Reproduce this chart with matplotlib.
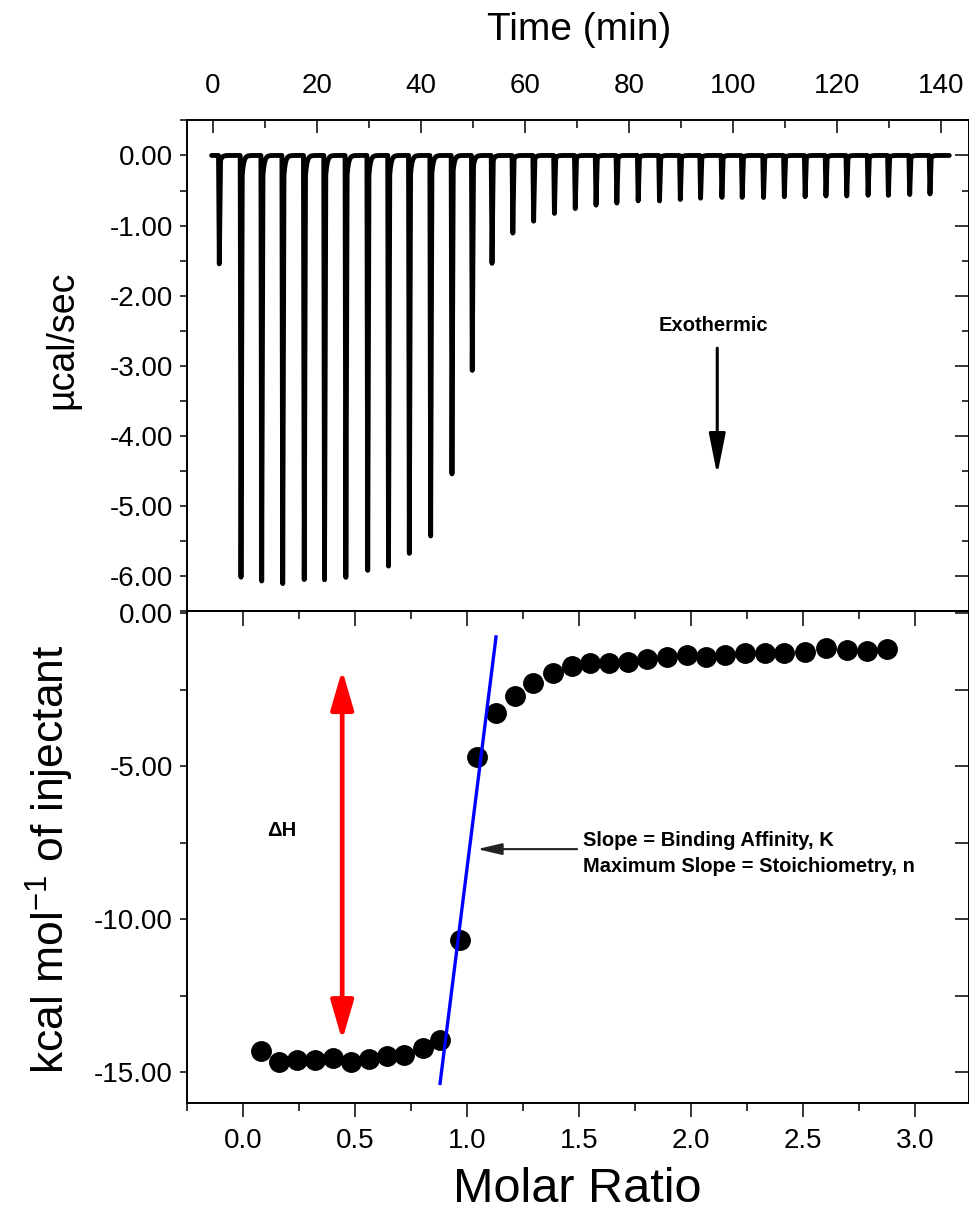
import numpy as np
import matplotlib
matplotlib.use('Agg')
import matplotlib.pyplot as plt
from matplotlib.ticker import MultipleLocator, FormatStrFormatter

plt.rcParams['font.family'] = ['Liberation Sans', 'DejaVu Sans']
plt.rcParams['mathtext.fontset'] = 'custom'
plt.rcParams['mathtext.rm'] = 'Liberation Sans'
plt.rcParams['mathtext.it'] = 'Liberation Sans:italic'
plt.rcParams['mathtext.bf'] = 'Liberation Sans:bold'

# ---------------- data ----------------
# Thermogram: injection peak times (min) and peak heights (ucal/sec)
peak_times = [1.27, 5.44, 9.42, 13.46, 17.6, 21.5, 25.6, 29.8, 33.8, 37.8, 41.9,
              46.0, 49.9, 53.7, 57.7, 61.7, 65.7, 69.7, 73.7, 77.7, 81.8, 85.9,
              89.9, 93.8, 97.9, 101.8, 105.9, 109.9, 113.9, 117.9, 121.9, 126.0,
              129.9, 134.0, 137.9]
peak_depths = [-1.55, -6.04, -6.08, -6.12, -6.06, -6.06, -6.04, -5.94, -5.87, -5.68,
               -5.45, -4.55, -3.07, -1.54, -1.11, -0.94, -0.83, -0.76, -0.71, -0.68,
               -0.65, -0.65, -0.63, -0.61, -0.60, -0.60, -0.60, -0.59, -0.59, -0.58,
               -0.58, -0.57, -0.57, -0.56, -0.55]
run_start, run_end = -0.2, 141.6

# Integrated heats
molar_ratio = [0.080, 0.158, 0.240, 0.321, 0.400, 0.481, 0.560, 0.641, 0.719, 0.802,
               0.879, 0.966, 1.043, 1.129, 1.214, 1.296, 1.383, 1.467, 1.549, 1.635,
               1.720, 1.805, 1.894, 1.981, 2.067, 2.152, 2.241, 2.330, 2.417, 2.509,
               2.603, 2.695, 2.784, 2.876]
enthalpy = [-14.30, -14.66, -14.59, -14.61, -14.52, -14.66, -14.55, -14.48, -14.42, -14.19,
            -13.93, -10.69, -4.70, -3.28, -2.71, -2.28, -1.97, -1.73, -1.64, -1.62,
            -1.59, -1.51, -1.43, -1.37, -1.45, -1.37, -1.30, -1.30, -1.32, -1.26,
            -1.15, -1.21, -1.23, -1.19]

# Slope line
slope_x = [0.879, 1.129]
slope_y = [-15.36, -0.78]

# ---------------- figure ----------------
W, H = 970, 1216
fig = plt.figure(figsize=(W / 100, H / 100), dpi=100)
ax1 = fig.add_axes([187 / W, 1 - 611 / H, 782 / W, (611 - 120) / H])
ax2 = fig.add_axes([187 / W, 1 - 1103 / H, 782 / W, (1103 - 611) / H])

TICK_FS = 20
SPINE_LW = 1.4

# thermogram trace (peak shape: sharp drop, fast return)
t = np.linspace(run_start, run_end, 100000)
y = np.zeros_like(t)
for ti, d in zip(peak_times, peak_depths):
    dt = t - ti
    down = (dt >= -0.15) & (dt < 0)
    y[down] += d * (dt[down] + 0.15) / 0.15
    up1 = (dt >= 0) & (dt < 0.22)
    y[up1] += d * (1 - 0.95 * dt[up1] / 0.22)
    up2 = dt >= 0.22
    y[up2] += d * 0.05 * np.exp(-(dt[up2] - 0.22) / 0.3)
ax1.plot(t, y, color='black', lw=3.5, solid_joinstyle='round', solid_capstyle='round')

ax1.set_xlim(-4.94, 145.4)
ax1.set_ylim(-6.5, 0.506)
ax1.xaxis.tick_top()
ax1.xaxis.set_major_locator(MultipleLocator(20))
ax1.xaxis.set_minor_locator(MultipleLocator(10))
ax1.yaxis.set_major_locator(MultipleLocator(1))
ax1.yaxis.set_minor_locator(MultipleLocator(0.5))
ax1.yaxis.set_major_formatter(FormatStrFormatter('%.2f'))
ax1.tick_params(axis='x', which='both', direction='in', top=True, bottom=False,
                labeltop=True, labelbottom=False, width=1.1)
ax1.tick_params(axis='x', which='major', length=9.5, pad=15, labelsize=TICK_FS)
ax1.tick_params(axis='x', which='minor', length=5.5)
ax1.tick_params(axis='y', which='both', direction='out', left=True, right=False,
                length=5, width=1.1, labelsize=TICK_FS, pad=5)
s1 = ax1.secondary_yaxis('right')
s1.yaxis.set_major_locator(MultipleLocator(1))
s1.yaxis.set_minor_locator(MultipleLocator(0.5))
s1.tick_params(axis='y', which='both', direction='in', labelright=False, width=1.1)
s1.tick_params(axis='y', which='major', length=10)
s1.tick_params(axis='y', which='minor', length=5)

# integrated heats
ax2.plot(molar_ratio, enthalpy, 'o', color='black', ms=14, zorder=3)
ax2.plot(slope_x, slope_y, color='#0000FF', lw=2.4, zorder=4)

ax2.set_xlim(-0.251, 3.241)
ax2.set_ylim(-16.0, 0.065)
ax2.xaxis.set_major_locator(MultipleLocator(0.5))
ax2.xaxis.set_minor_locator(MultipleLocator(0.25))
ax2.xaxis.set_major_formatter(FormatStrFormatter('%.1f'))
ax2.yaxis.set_major_locator(MultipleLocator(5))
ax2.yaxis.set_minor_locator(MultipleLocator(2.5))
ax2.yaxis.set_major_formatter(FormatStrFormatter('%.2f'))
ax2.tick_params(axis='x', which='both', direction='out', top=False, bottom=True, width=1.1)
ax2.tick_params(axis='x', which='major', length=10, pad=8, labelsize=TICK_FS)
ax2.tick_params(axis='x', which='minor', length=6)
ax2.tick_params(axis='y', which='both', direction='out', left=True, right=False,
                length=5, width=1.1, labelsize=TICK_FS, pad=5)
s2 = ax2.secondary_xaxis('top')
s2.xaxis.set_major_locator(MultipleLocator(0.5))
s2.xaxis.set_minor_locator(MultipleLocator(0.25))
s2.tick_params(axis='x', which='both', direction='in', labeltop=False, width=1.1)
s2.tick_params(axis='x', which='major', length=11)
s2.tick_params(axis='x', which='minor', length=6)
s3 = ax2.secondary_yaxis('right')
s3.yaxis.set_major_locator(MultipleLocator(5))
s3.yaxis.set_minor_locator(MultipleLocator(2.5))
s3.tick_params(axis='y', which='both', direction='in', labelright=False, width=1.1)
s3.tick_params(axis='y', which='major', length=10)
s3.tick_params(axis='y', which='minor', length=10)

for a in (ax1, ax2, s1, s2, s3):
    for sp in a.spines.values():
        sp.set_linewidth(SPINE_LW)

# annotations
ax1.text(96.2, -2.42, 'Exothermic', fontsize=14.5, fontweight='bold', ha='center', va='center')
ax1.annotate('', xy=(97.0, -4.56), xytext=(97.0, -2.75),
             arrowprops=dict(arrowstyle='-|>,head_length=2.5,head_width=0.5',
                             mutation_scale=10, color='black', lw=2.2,
                             shrinkA=0, shrinkB=0))

ax2.annotate('', xy=(0.442, -1.86), xytext=(0.442, -13.95),
             arrowprops=dict(arrowstyle='<|-|>,head_length=2.4,head_width=0.7',
                             mutation_scale=10, color='#FF0000', lw=3.4,
                             shrinkA=0, shrinkB=0))
ax2.text(0.174, -7.09, '\u0394H', fontsize=14.5, fontweight='bold', ha='center', va='center')
ax2.annotate('', xy=(1.045, -7.71), xytext=(1.491, -7.71),
             arrowprops=dict(arrowstyle='-|>,head_length=1.5,head_width=0.35',
                             mutation_scale=10, color='#222222', lw=1.5,
                             shrinkA=0, shrinkB=0))
ax2.text(1.518, -7.42, 'Slope = Binding Affinity, K', fontsize=14.5, fontweight='bold',
         ha='left', va='center')
ax2.text(1.518, -8.27, 'Maximum Slope = Stoichiometry, n', fontsize=14.5, fontweight='bold',
         ha='left', va='center')

# axis labels
fig.text(579 / W, 1 - 30 / H, 'Time (min)', ha='center', va='center', fontsize=28)
fig.text(62 / W, 1 - 340 / H, '\u00b5cal/sec', ha='center', va='center', fontsize=27, rotation=90)
fig.text(50 / W, 1 - 859 / H, 'kcal mol$^{-1}$ of injectant', ha='center', va='center',
         fontsize=32, rotation=90)
fig.text(577 / W, 1 - 1189 / H, 'Molar Ratio', ha='center', va='center', fontsize=35)

fig.savefig('out.png', dpi=100)
